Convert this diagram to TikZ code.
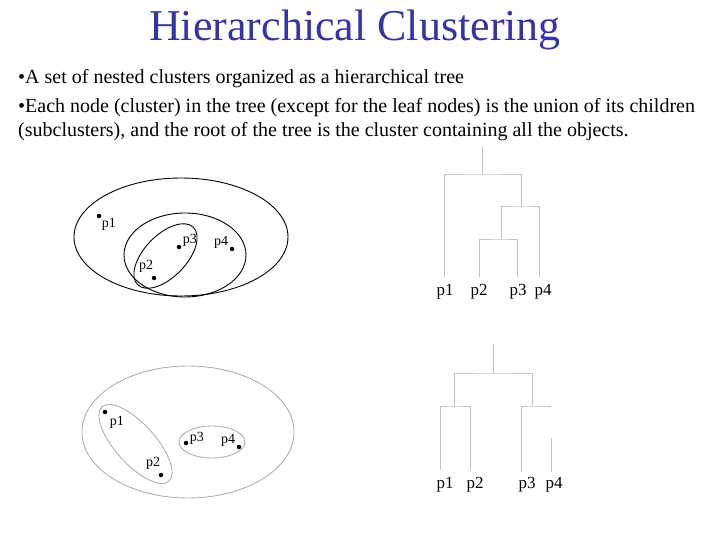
\documentclass[tikz,border=0pt]{standalone}
\usepackage{fontspec}
\setmainfont{Liberation Serif}
\usetikzlibrary{positioning}
\definecolor{titleblue}{RGB}{51,51,170}
\definecolor{treegray}{RGB}{195,195,195}
\definecolor{ringgray}{RGB}{175,175,175}

\begin{document}
\begin{tikzpicture}[
    x=1pt, y=-1pt,
    node distance=0pt,
    % text styles
    title/.style = {
      anchor=base,
      inner sep=0pt,
      text=titleblue,
      font=\fontsize{44}{48}\selectfont
    },
    bodyline/.style = {
      anchor=base west,
      inner sep=0pt,
      font=\fontsize{20}{24}\selectfont
    },
    ptlabel/.style = {inner sep=0pt, font=\fontsize{14}{16}\selectfont},
    leaflabel/.style = {inner sep=0pt, font=\fontsize{17}{19}\selectfont},
    % point and line styles
    dot/.style = {circle, fill=black, inner sep=0pt, minimum size=4.5pt},
    cluster/.style = {draw=black, line width=0.9pt},
    paleclu/.style = {draw=ringgray, line width=0.9pt},
    tree/.style = {draw=treegray, line width=1pt}
  ]
  \useasboundingbox (0,0) rectangle (720,540);

  % --- Title and text
  \node[title] (head) at (355,41) {Hierarchical Clustering};
  \node[bodyline] (txt1) at (18,84) {\textbullet A set of nested clusters organized as a hierarchical tree};
  \node[bodyline] (txt2) at (18,113) {\textbullet Each node (cluster) in the tree (except for the leaf nodes) is the union of its children};
  \node[bodyline] (txt3) at (18,137) {(subclusters), and the root of the tree is the cluster containing all the objects.};

  % --- Nested clusters (top left)
  \draw[cluster] (181,237) ellipse [x radius=107, y radius=59];
  \draw[cluster] (185,255) ellipse [x radius=61, y radius=42];
  \draw[cluster, rotate around={46:(165.5,256)}] (165.5,256) ellipse [x radius=40, y radius=21];

  \node[dot] (a1) at (99,216) {};
  \node[dot] (a2) at (154,278) {};
  \node[dot] (a3) at (179,247) {};
  \node[dot] (a4) at (232,249) {};
  \node[ptlabel, below right=0pt and 1pt of a1] {p1};
  \node[ptlabel, above left=4pt and -1pt of a2] {p2};
  \node[ptlabel, above right=-1pt and 2pt of a3] {p3};
  \node[ptlabel, above left=-1pt and 2pt of a4] {p4};

  % --- Dendrogram (top right)
  \coordinate (l1) at (444,277);
  \coordinate (l2) at (479,277);
  \coordinate (l3) at (517,277);
  \coordinate (l4) at (539,277);
  \coordinate (m23) at (501,239);
  \coordinate (m234) at (521,207);
  \coordinate (mroot) at (482,175);
  \coordinate (rtop) at (482,147);

  \draw[tree] (l2) |- (m23) -| (l3);
  \draw[tree] (m23) |- (m234) -| (l4);
  \draw[tree] (l1) |- (mroot) -| (m234);
  \draw[tree] (mroot) -- (rtop);

  \node[leaflabel, below=7pt of l1, xshift=1pt] {p1};
  \node[leaflabel, below=7pt of l2] {p2};
  \node[leaflabel, below=7pt of l3, xshift=1pt] {p3};
  \node[leaflabel, below=7pt of l4, xshift=4pt] {p4};

  % --- Separate clusters (bottom left)
  \draw[paleclu] (188,432) ellipse [x radius=106, y radius=66];
  \draw[paleclu, rotate around={-48:(135.5,444)}] (135.5,444) ellipse [x radius=50, y radius=20];
  \draw[paleclu] (212,442) ellipse [x radius=33, y radius=16];

  \node[dot] (b1) at (105,412) {};
  \node[dot] (b2) at (161,475) {};
  \node[dot] (b3) at (186,443) {};
  \node[dot] (b4) at (239,447) {};
  \node[ptlabel, below right=2pt and 3pt of b1] {p1};
  \node[ptlabel, above left=4pt and -1pt of b2] {p2};
  \node[ptlabel, above right=-3pt and 2pt of b3] {p3};
  \node[ptlabel, above left=-1pt and 2pt of b4] {p4};

  % --- Dendrogram (bottom right)
  \coordinate (k1) at (440,470);
  \coordinate (k2) at (470,470);
  \coordinate (k3) at (521,472);
  \coordinate (k4) at (551,472);
  \coordinate (g4) at (551,438); % p4 line only starts here
  \coordinate (c4) at (551,406);
  \coordinate (n12) at (454,406);
  \coordinate (n34) at (532,406);
  \coordinate (nroot) at (493,373);
  \coordinate (stop) at (493,344);

  \draw[tree] (k1) |- (n12) -| (k2);
  \draw[tree] (n12) |- (nroot) -| (n34);
  \draw[tree] (k3) |- (n34) -- (c4);
  \draw[tree] (g4) -- (k4);
  \draw[tree] (nroot) -- (stop);

  \node[leaflabel, below=7pt of k1, xshift=5pt] {p1};
  \node[leaflabel, below=7pt of k2, xshift=5pt] {p2};
  \node[leaflabel, below=5pt of k3, xshift=6pt] {p3};
  \node[leaflabel, below=5pt of k4, xshift=3pt] {p4};
\end{tikzpicture}
\end{document}
